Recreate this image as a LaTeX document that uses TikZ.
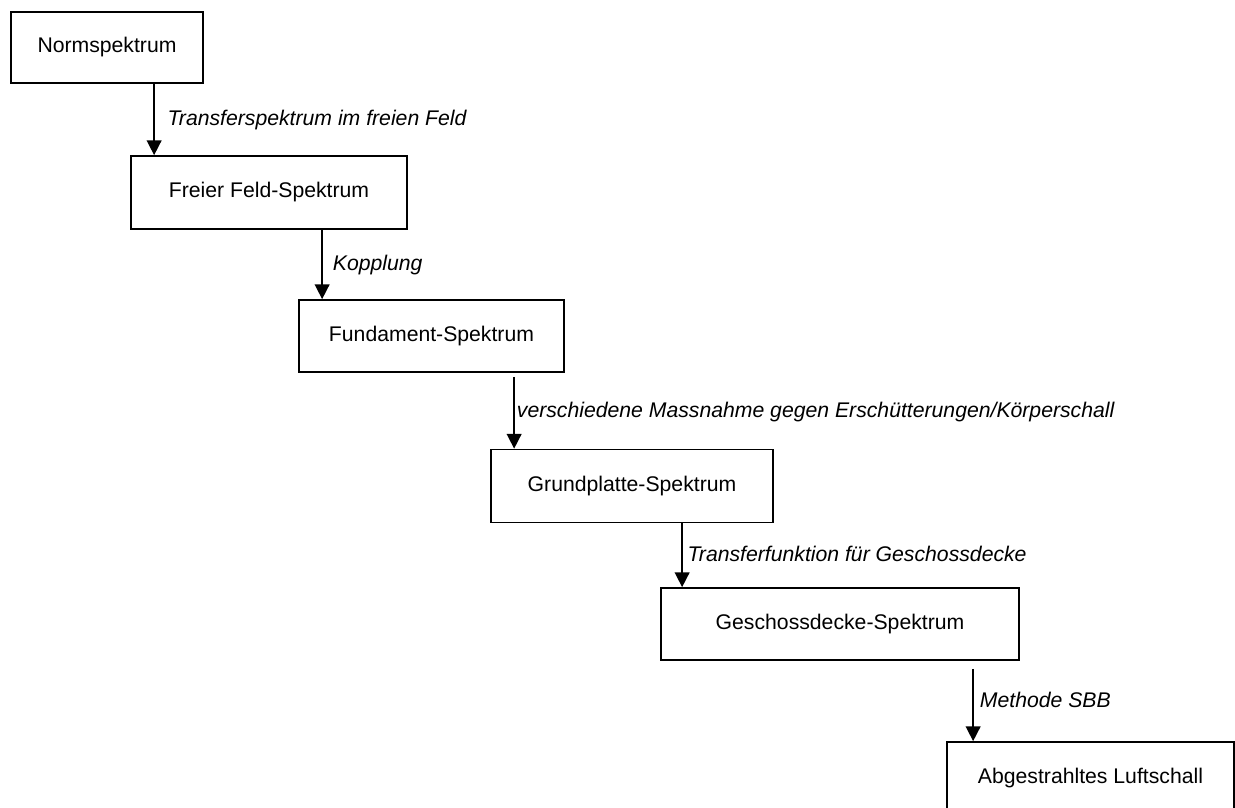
\documentclass[tikz,border=0pt]{standalone}
\usepackage{fontspec}
\setmainfont{Liberation Sans}
\usepackage{tikz}
\usetikzlibrary{arrows.meta,positioning,calc}
\tikzset{
  box/.style={draw, line width=1.3pt, inner sep=0pt, font=\fontsize{15.9pt}{19pt}\selectfont, fill=white},
  lbl/.style={inner sep=0pt, anchor=west, text depth=0.21em, font=\fontsize{15.9pt}{19pt}\selectfont\itshape},
  flow/.style={-{Triangle[length=11pt,width=11pt]}, line width=1.2pt}
}

\begin{document}
\begin{tikzpicture}[x=0.75pt,y=-0.75pt]
  \useasboundingbox (0,0) rectangle (1235,807);
  % spectra, one step down each time
  \node[box, minimum width=144pt, minimum height=53.25pt] (norm) at (107,47.5) {Normspektrum};
  \node[box, minimum width=207pt, minimum height=54.75pt] (feld) at (269,192.5) {Freier Feld-Spektrum};
  \node[box, minimum width=198.75pt, minimum height=54pt] (fund) at (431.5,336) {Fundament-Spektrum};
  \node[box, minimum width=211.5pt, minimum height=54.75pt] (grund) at (632,486) {Grundplatte-Spektrum};
  \node[box, minimum width=268.5pt, minimum height=54pt] (decke) at (840,624) {Geschossdecke-Spektrum};
  \node[box, minimum width=215.25pt, minimum height=54pt] (luft) at (1090.5,778) {Abgestrahltes Luftschall};
  % arrow ends on the top edge of the next box
  \coordinate (t1) at ([xshift=18pt]feld.north west);
  \coordinate (t2) at ([xshift=18pt]fund.north west);
  \coordinate (t3) at ([xshift=18pt]grund.north west);
  \coordinate (t4) at ([xshift=16.5pt]decke.north west);
  \coordinate (t5) at ([xshift=20.25pt]luft.north west);
  \draw[flow] (t1 |- norm.south) -- (t1) node[lbl, midway, xshift=9.5pt] {Transferspektrum im freien Feld};
  \draw[flow] (t2 |- feld.south) -- (t2) node[lbl, midway, xshift=7.5pt] {Kopplung};
  \draw[flow, shorten <=3pt] (t3 |- fund.south) -- (t3) node[lbl, midway, xshift=1.5pt] {verschiedene Massnahme gegen Erschütterungen/Körperschall};
  \draw[flow] (t4 |- grund.south) -- (t4) node[lbl, midway, xshift=3.5pt] {Transferfunktion für Geschossdecke};
  \draw[flow, shorten <=6pt] (t5 |- decke.south) -- (t5) node[lbl, midway, xshift=4.5pt] {Methode SBB};
\end{tikzpicture}
\end{document}
